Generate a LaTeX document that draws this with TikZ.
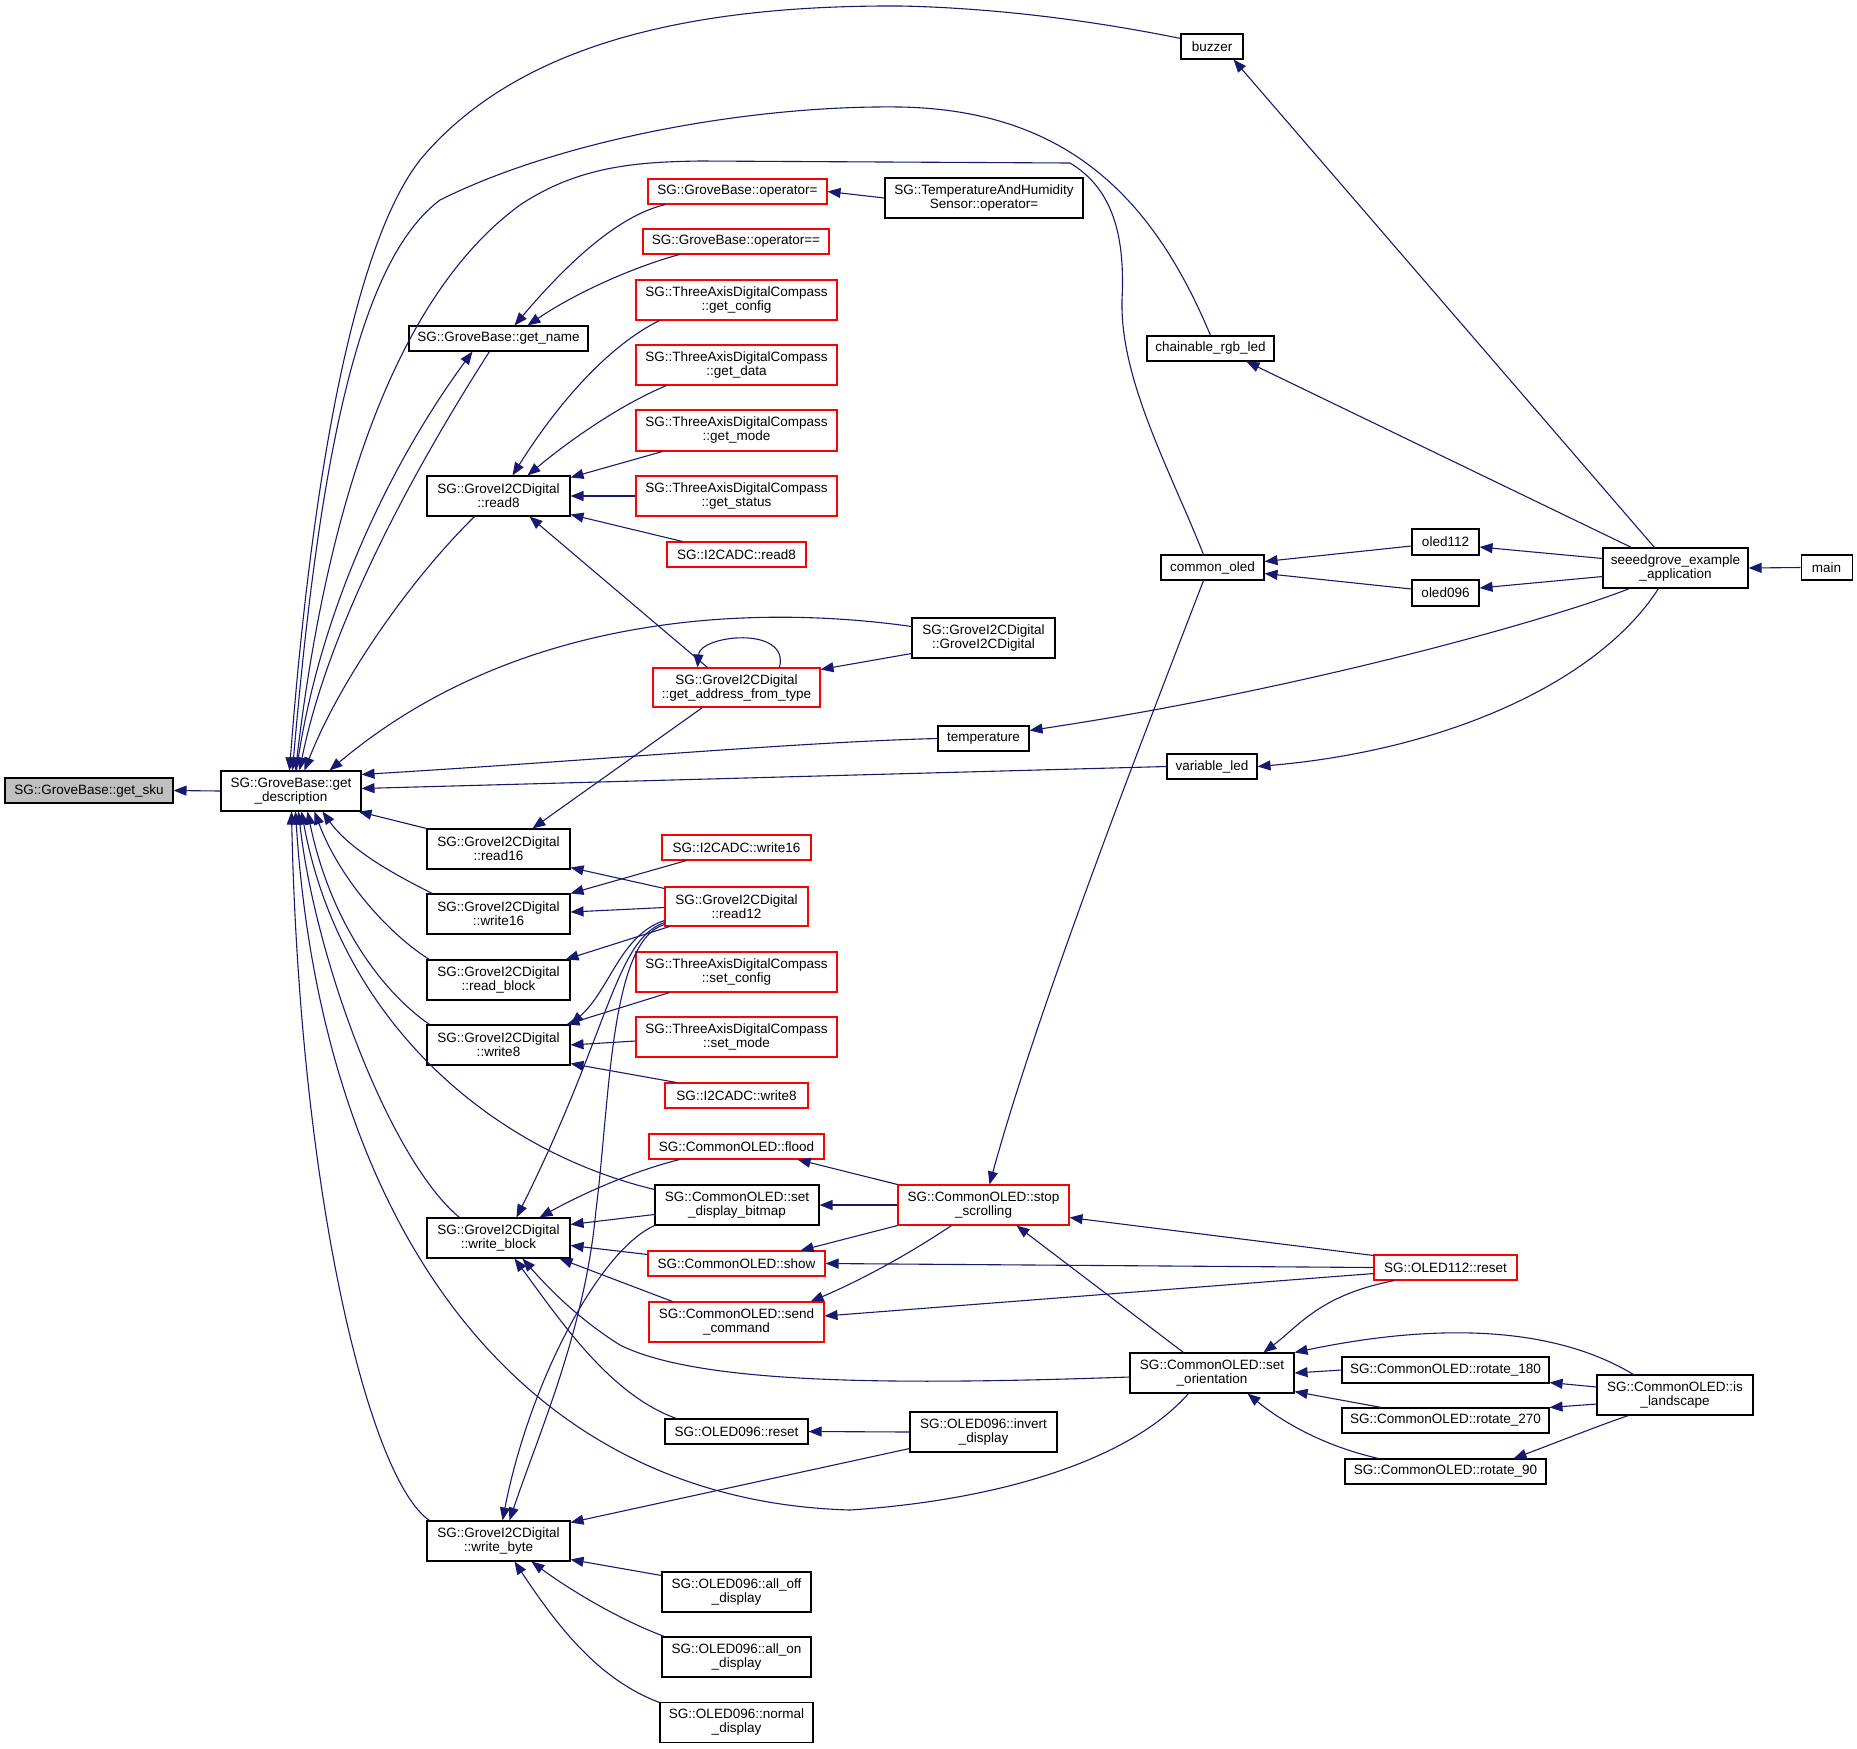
\documentclass[tikz,border=0pt]{standalone}
\usepackage{fontspec}
\setmainfont{Liberation Sans}
\usetikzlibrary{arrows.meta,calc}
\definecolor{edgec}{HTML}{191970}
\definecolor{redc}{HTML}{FF0000}
\definecolor{grayf}{HTML}{BFBFBF}
\newcommand\bx[7]{\node[#6, minimum width={(#4-#2)*1pt}, minimum height={(#5-#3)*1pt}] (#1) at ({(#2+#4)/2},{(#3+#5)/2}) {#7};}
\tikzset{
 box/.style={draw=black, line width=1.05pt, fill=white, inner sep=0pt, align=center, font=\fontsize{13.5}{14}\selectfont},
 rbox/.style={box, draw=redc},
 gbox/.style={box, fill=grayf},
 cn/.style={draw=edgec, line width=1.1pt, >={Triangle[length=13pt,width=10pt]}, <-},
}
\begin{document}
\begin{tikzpicture}[x=1pt,y=-1pt]
\useasboundingbox (0,0) rectangle (1857,1748);
% nodes
\bx{gsku}{5}{778}{173}{803}{gbox}{SG::GroveBase::get\_sku}
\bx{gd}{221}{771}{361}{811}{box}{SG::GroveBase::get\\\_description}
\bx{buzzer}{1181}{34}{1243}{59}{box}{buzzer}
\bx{opeq}{648}{179}{827}{204}{rbox}{SG::GroveBase::operator=}
\bx{thop}{885}{178}{1083}{218}{box}{SG::TemperatureAndHumidity\\Sensor::operator=}
\bx{opeqeq}{643}{229}{829}{254}{rbox}{SG::GroveBase::operator==}
\bx{gname}{409}{326}{588}{351}{box}{SG::GroveBase::get\_name}
\bx{gcfg}{636}{280}{837}{320}{rbox}{SG::ThreeAxisDigitalCompass\\::get\_config}
\bx{gdata}{636}{345}{837}{385}{rbox}{SG::ThreeAxisDigitalCompass\\::get\_data}
\bx{gmode}{636}{410}{837}{451}{rbox}{SG::ThreeAxisDigitalCompass\\::get\_mode}
\bx{gstat}{636}{476}{837}{516}{rbox}{SG::ThreeAxisDigitalCompass\\::get\_status}
\bx{adcr8}{667}{542}{806}{567}{rbox}{SG::I2CADC::read8}
\bx{rd8}{427}{476}{570}{516}{box}{SG::GroveI2CDigital\\::read8}
\bx{gaddr}{653}{668}{820}{707}{rbox}{SG::GroveI2CDigital\\::get\_address\_from\_type}
\bx{chain}{1147}{336}{1274}{361}{box}{chainable\_rgb\_led}
\bx{coled}{1161}{555}{1264}{580}{box}{common\_oled}
\bx{o112}{1412}{529}{1479}{555}{box}{oled112}
\bx{o096}{1412}{580}{1479}{606}{box}{oled096}
\bx{seeed}{1603}{548}{1748}{588}{box}{seeedgrove\_example\\\_application}
\bx{main}{1801}{555}{1852}{580}{box}{main}
\bx{ctor}{912}{618}{1055}{658}{box}{SG::GroveI2CDigital\\::GroveI2CDigital}
\bx{temp}{938}{726}{1029}{751}{box}{temperature}
\bx{vled}{1167}{754}{1257}{779}{box}{variable\_led}
\bx{rd16}{427}{829}{570}{869}{box}{SG::GroveI2CDigital\\::read16}
\bx{wr16}{427}{894}{570}{934}{box}{SG::GroveI2CDigital\\::write16}
\bx{rdblk}{427}{960}{570}{1000}{box}{SG::GroveI2CDigital\\::read\_block}
\bx{wr8}{427}{1025}{570}{1065}{box}{SG::GroveI2CDigital\\::write8}
\bx{adcw16}{662}{835}{811}{860}{rbox}{SG::I2CADC::write16}
\bx{rd12}{665}{887}{808}{926}{rbox}{SG::GroveI2CDigital\\::read12}
\bx{scfg}{636}{952}{837}{992}{rbox}{SG::ThreeAxisDigitalCompass\\::set\_config}
\bx{smode}{636}{1017}{837}{1057}{rbox}{SG::ThreeAxisDigitalCompass\\::set\_mode}
\bx{adcw8}{665}{1083}{808}{1108}{rbox}{SG::I2CADC::write8}
\bx{flood}{649}{1134}{824}{1159}{rbox}{SG::CommonOLED::flood}
\bx{sdb}{655}{1185}{819}{1225}{box}{SG::CommonOLED::set\\\_display\_bitmap}
\bx{stops}{898}{1185}{1069}{1225}{rbox}{SG::CommonOLED::stop\\\_scrolling}
\bx{show}{648}{1251}{825}{1276}{rbox}{SG::CommonOLED::show}
\bx{sendc}{649}{1302}{824}{1342}{rbox}{SG::CommonOLED::send\\\_command}
\bx{o96rst}{665}{1419}{808}{1444}{box}{SG::OLED096::reset}
\bx{invd}{910}{1412}{1057}{1452}{box}{SG::OLED096::invert\\\_display}
\bx{wblk}{427}{1218}{570}{1258}{box}{SG::GroveI2CDigital\\::write\_block}
\bx{wbyte}{427}{1521}{570}{1561}{box}{SG::GroveI2CDigital\\::write\_byte}
\bx{alloff}{662}{1572}{811}{1612}{box}{SG::OLED096::all\_off\\\_display}
\bx{allon}{662}{1637}{811}{1677}{box}{SG::OLED096::all\_on\\\_display}
\bx{normal}{660}{1702}{813}{1742}{box}{SG::OLED096::normal\\\_display}
\bx{o112rst}{1374}{1255}{1517}{1280}{rbox}{SG::OLED112::reset}
\bx{sori}{1130}{1353}{1294}{1393}{box}{SG::CommonOLED::set\\\_orientation}
\bx{r180}{1342}{1357}{1549}{1383}{box}{SG::CommonOLED::rotate\_180}
\bx{r270}{1342}{1408}{1549}{1433}{box}{SG::CommonOLED::rotate\_270}
\bx{r90}{1345}{1459}{1546}{1484}{box}{SG::CommonOLED::rotate\_90}
\bx{isl}{1597}{1375}{1753}{1415}{box}{SG::CommonOLED::is\\\_landscape}
% edges
\draw[cn] (gsku.east) -- (gd.west);
\draw[cn] ($(gd.north west)+(69,0)$) .. controls (310,500) and (350,250) .. (420,160) .. controls (520,40) and (700,5) .. (900,6) .. controls (1000,8) and (1100,22) .. ($(buzzer.north west)+(0,5)$);
\draw[cn] ($(gd.north west)+(72,0)$) .. controls (320,450) and (360,260) .. (440,200) .. controls (560,140) and (750,105) .. (900,107) .. controls (1060,110) and (1150,190) .. (chain.north);
\draw[cn] ($(gd.north west)+(75,0)$) .. controls (325,520) and (390,300) .. (520,205) .. controls (580,165) and (640,162) .. (700,161) -- (1070,163) .. controls (1115,190) and (1125,240) .. (1122,300) .. controls (1120,380) and (1170,470) .. ($(coled.north west)+(43,0)$);
\draw[cn] ($(gd.north west)+(79,0)$) .. controls (330,620) and (420,460) .. ($(gname.south west)+(81,0)$);
\draw[cn] ($(gname.south west)+(64,0)$) .. controls (400,450) and (320,600) .. ($(gd.north west)+(76,0)$);
\draw[cn] ($(gd.north west)+(84,0)$) .. controls (340,680) and (410,580) .. ($(rd8.south west)+(48,0)$);
\draw[cn] ($(gd.north west)+(109,0)$) .. controls (520,610) and (760,605) .. ($(ctor.north west)+(0,9)$);
\draw[cn] ($(gd.north east)+(0,4)$) .. controls (600,760) and (800,742) .. (temp.west);
\draw[cn] ($(gd.north east)+(0,18)$) -- (vled.west);
\draw[cn] ($(gd.south east)+(-3,0)$) -- (rd16.north west);
\draw[cn] ($(gd.south west)+(102,0)$) .. controls (350,850) and (395,875) .. ($(wr16.north west)+(6,0)$);
\draw[cn] ($(gd.south west)+(94,0)$) .. controls (340,880) and (390,935) .. ($(rdblk.north west)+(3,0)$);
\draw[cn] ($(gd.south west)+(87,0)$) .. controls (330,920) and (380,990) .. ($(wr8.north west)+(3,0)$);
\draw[cn] ($(gd.south west)+(81,0)$) .. controls (340,1020) and (490,1150) .. ($(sdb.north west)+(0,5)$);
\draw[cn] ($(gd.south west)+(78,0)$) .. controls (315,960) and (390,1160) .. ($(wblk.north west)+(33,0)$);
\draw[cn] ($(gd.south west)+(75,0)$) .. controls (320,1200) and (500,1500) .. (850,1510) .. controls (1000,1500) and (1130,1460) .. ($(sori.south west)+(59,0)$);
\draw[cn] ($(gd.south west)+(71,0)$) .. controls (300,1200) and (370,1480) .. ($(wbyte.north west)+(3,0)$);
% get_name
\draw[cn] ($(gname.north west)+(106,0)$) .. controls (570,260) and (620,215) .. ($(opeq.south west)+(18,0)$);
\draw[cn] ($(gname.north west)+(119,0)$) .. controls (580,290) and (640,265) .. ($(opeqeq.south west)+(37,0)$);
\draw[cn] (opeq.east) -- ($(thop.west)+(0,0)$);
% read8
\draw[cn] ($(rd8.north west)+(86,0)$) .. controls (560,400) and (610,345) .. ($(gcfg.south west)+(24,0)$);
\draw[cn] ($(rd8.north west)+(101,0)$) .. controls (570,440) and (620,405) .. ($(gdata.south west)+(31,0)$);
\draw[cn] ($(rd8.north east)+(0,2)$) -- ($(gmode.south west)+(27,0)$);
\draw[cn] (rd8.east) -- (gstat.west);
\draw[cn] ($(rd8.south east)+(0,-2)$) -- ($(adcr8.north west)+(16,0)$);
\draw[cn] ($(rd8.south west)+(103,0)$) -- ($(gaddr.north west)+(55,0)$);
\draw[cn] ($(gaddr.north west)+(45,0)$) .. controls (700,635) and (790,625) .. ($(gaddr.north west)+(127,0)$);
\draw[cn] ($(gaddr.north east)+(0,2)$) -- ($(ctor.south west)+(0,-5)$);
\draw[cn] ($(rd16.north west)+(106,0)$) -- ($(gaddr.south west)+(50,0)$);
% read12 and friends
\draw[cn] ($(rd16.south east)+(0,-2)$) -- ($(rd12.north west)+(0,2)$);
\draw[cn] (wr16.north east) -- ($(adcw16.south west)+(25,0)$);
\draw[cn] ($(wr16.east)+(0,-2)$) -- ($(rd12.west)+(0,1)$);
\draw[cn] ($(rdblk.north east)+(-5,0)$) -- ($(rd12.south west)+(5,0)$);
\draw[cn] (wr8.north east) .. controls (610,990) and (620,935) .. ($(rd12.south west)+(0,-6)$);
\draw[cn] ($(wr8.north east)+(-4,0)$) -- ($(scfg.south west)+(34,0)$);
\draw[cn] (wr8.east) -- ($(smode.west)+(0,4)$);
\draw[cn] ($(wr8.south east)+(0,-2)$) -- ($(adcw8.north west)+(12,0)$);
\draw[cn] ($(wblk.north west)+(90,0)$) .. controls (610,1030) and (615,940) .. ($(rd12.south west)+(0,-4)$);
\draw[cn] ($(wbyte.north west)+(83,0)$) .. controls (540,1430) and (585,1330) .. (596,1210) .. controls (610,1100) and (610,940) .. ($(rd12.south west)+(0,-2)$);
\draw[cn] ($(wbyte.north west)+(76,0)$) .. controls (530,1380) and (600,1250) .. (sdb.south west);
\draw[cn] ($(wblk.north west)+(113,0)$) .. controls (580,1195) and (630,1172) .. ($(flood.south west)+(31,0)$);
\draw[cn] ($(wblk.north east)+(0,7)$) -- ($(sdb.north west)+(0,30)$);
\draw[cn] ($(wblk.north east)+(0,28)$) -- ($(show.north west)+(0,4)$);
\draw[cn] ($(wblk.south west)+(133,0)$) -- ($(sendc.north west)+(24,0)$);
\draw[cn] ($(wblk.south west)+(88,0)$) .. controls (560,1320) and (610,1395) .. ($(o96rst.north west)+(12,0)$);
\draw[cn] ($(wblk.south west)+(96,0)$) .. controls (550,1290) and (580,1320) .. (620,1345) .. controls (700,1385) and (900,1385) .. ($(sori.west)+(0,4)$);
\draw[cn] ($(wbyte.north east)+(0,2)$) -- ($(invd.south west)+(0,-4)$);
\draw[cn] (o96rst.east) -- (invd.west);
\draw[cn] ($(wbyte.south east)+(0,-2)$) -- ($(alloff.north west)+(0,4)$);
\draw[cn] ($(wbyte.south west)+(105,0)$) .. controls (570,1590) and (620,1620) .. ($(allon.north west)+(3,0)$);
\draw[cn] ($(wbyte.south west)+(88,0)$) .. controls (560,1630) and (600,1680) .. ($(normal.north west)+(0,1)$);
% stop_scrolling
\draw[cn] ($(flood.south east)+(-27,0)$) -- (stops.north west);
\draw[cn] (sdb.east) -- (stops.west);
\draw[cn] ($(show.north east)+(-25,0)$) -- (stops.south west);
\draw[cn] ($(sendc.north east)+(-14,0)$) .. controls (850,1285) and (900,1260) .. ($(stops.south west)+(54,0)$);
\draw[cn] ($(stops.north west)+(92,0)$) .. controls (1040,1000) and (1150,720) .. ($(coled.south west)+(43,0)$);
\draw[cn] ($(stops.south east)+(0,-8)$) -- ($(o112rst.north west)+(0,1)$);
\draw[cn] (show.east) -- (o112rst.west);
\draw[cn] ($(sendc.east)+(0,-6)$) -- ($(o112rst.south west)+(0,-7)$);
\draw[cn] ($(stops.south west)+(119,0)$) -- ($(sori.north west)+(54,0)$);
% set_orientation
\draw[cn] ($(sori.north west)+(134,0)$) .. controls (1300,1325) and (1320,1295) .. ($(o112rst.south west)+(21,0)$);
\draw[cn] (sori.north east) .. controls (1450,1320) and (1560,1330) .. ($(isl.north west)+(37,0)$);
\draw[cn] (sori.east) -- (r180.west);
\draw[cn] ($(sori.south east)+(0,-2)$) -- ($(r270.north west)+(40,0)$);
\draw[cn] ($(sori.south west)+(118,0)$) .. controls (1280,1420) and (1320,1445) .. ($(r90.north west)+(34,0)$);
\draw[cn] ($(r180.south east)+(0,-1)$) -- ($(isl.west)+(0,-8)$);
\draw[cn] (r270.north east) -- ($(isl.west)+(0,9)$);
\draw[cn] ($(r90.north east)+(-33,0)$) .. controls (1550,1445) and (1600,1425) .. ($(isl.south west)+(32,0)$);
% seeedgrove
\draw[cn] ($(buzzer.south east)+(-10,0)$) -- ($(seeed.north west)+(52,0)$);
\draw[cn] ($(chain.south west)+(100,0)$) -- ($(seeed.north west)+(29,0)$);
\draw[cn] ($(o112.east)+(0,5)$) -- ($(seeed.north west)+(0,11)$);
\draw[cn] ($(o096.east)+(0,-5)$) -- ($(seeed.south west)+(0,-12)$);
\draw[cn] (seeed.east) -- (main.west);
\draw[cn] ($(coled.east)+(0,-6)$) -- ($(o112.west)+(0,4)$);
\draw[cn] ($(coled.east)+(0,6)$) -- ($(o096.west)+(0,-4)$);
\draw[cn] ($(temp.east)+(0,-8)$) .. controls (1300,690) and (1550,620) .. ($(seeed.south west)+(27,0)$);
\draw[cn] (vled.east) .. controls (1450,750) and (1600,680) .. ($(seeed.south west)+(56,0)$);
\end{tikzpicture}
\end{document}
